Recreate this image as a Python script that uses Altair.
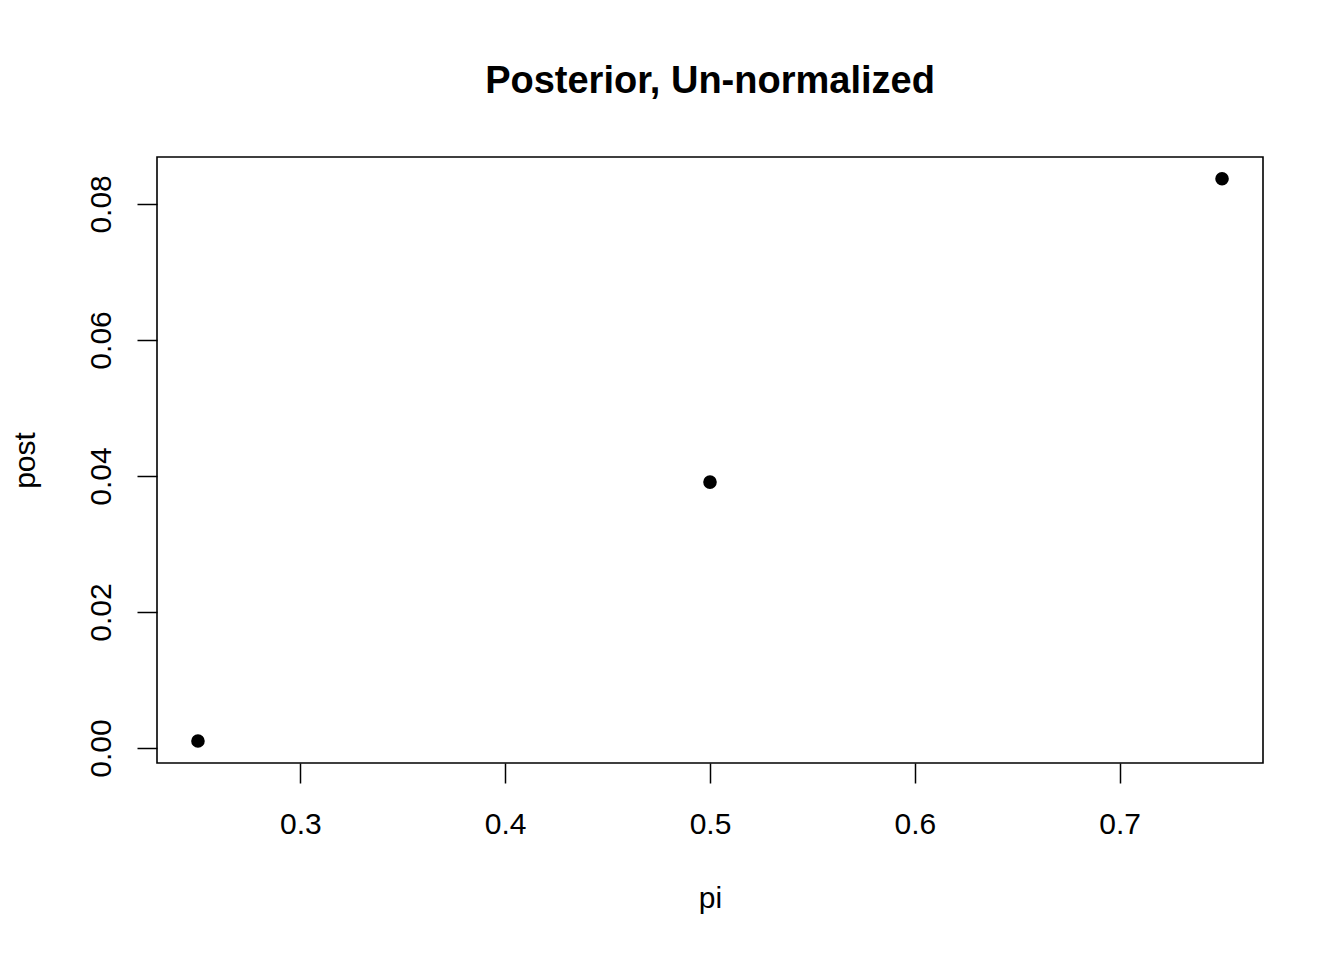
import altair as alt
import pandas as pd

pi_vals = [0.25, 0.50, 0.75]
post_vals = [0.00103, 0.0391, 0.0837]
x_ticks = [0.3, 0.4, 0.5, 0.6, 0.7]
y_ticks = [0.00, 0.02, 0.04, 0.06, 0.08]

df = pd.DataFrame({"pi": pi_vals, "post": post_vals})

FONT = "Liberation Sans"

chart = alt.Chart(df).mark_circle(size=185, color="black", opacity=1).encode(
    x=alt.X("pi:Q",
            scale=alt.Scale(domain=[0.23, 0.77], nice=False, zero=False),
            axis=alt.Axis(values=x_ticks, format=".1f", grid=False, domain=False,
                          tickSize=20, tickColor="black", tickWidth=1.5,
                          labelFontSize=30, labelFont=FONT, labelColor="black",
                          labelPadding=26, labelBaseline="top",
                          title="pi", titleFont=FONT, titleFontSize=30,
                          titleFontWeight="normal", titleColor="black",
                          titleX=553, titleY=144, titleBaseline="alphabetic",
                          titleAlign="center")),
    y=alt.Y("post:Q",
            scale=alt.Scale(domain=[-0.0022, 0.0869], nice=False, zero=False),
            axis=alt.Axis(values=y_ticks, format=".2f", grid=False, domain=False,
                          tickSize=20, tickColor="black", tickWidth=1.5,
                          labelFontSize=30, labelFont=FONT, labelColor="black",
                          labelAngle=270, labelAlign="center", labelBaseline="bottom",
                          labelPadding=21,
                          title="post", titleFont=FONT, titleFontSize=30,
                          titleFontWeight="normal", titleColor="black",
                          titleX=-123, titleY=303, titleAngle=270,
                          titleBaseline="alphabetic", titleAlign="center")),
).properties(
    width=1106,
    height=606,
    background="white",
    title=alt.TitleParams("Posterior, Un-normalized", font=FONT, fontSize=38,
                          fontWeight="bold", color="black", anchor="middle",
                          offset=56),
    autosize=alt.AutoSizeParams(type="none"),
    padding={"left": 149, "top": 149, "right": 73, "bottom": 189},
).configure_view(
    stroke="black", strokeWidth=1.6, fill="white"
)

chart.save("out.html", embed_options={"renderer": "svg", "actions": False})
